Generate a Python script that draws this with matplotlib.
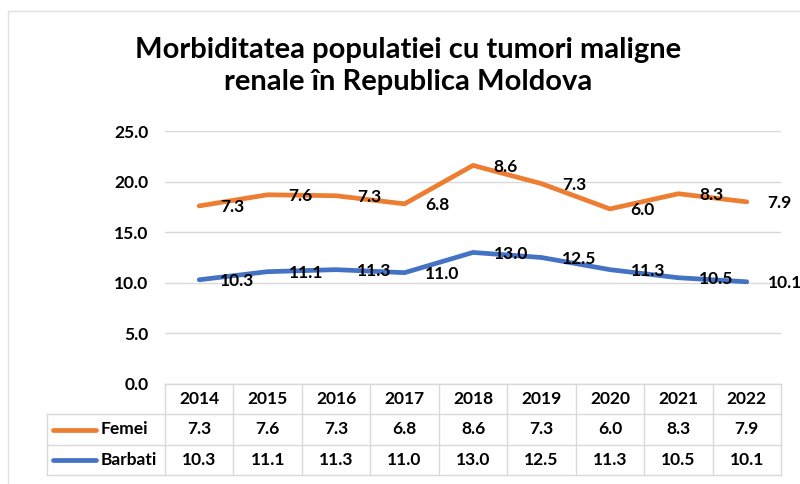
import numpy as np
import matplotlib.pyplot as plt

years = ['2014', '2015', '2016', '2017', '2018', '2019', '2020', '2021', '2022']
femei = [7.3, 7.6, 7.3, 6.8, 8.6, 7.3, 6.0, 8.3, 7.9]
barbati = [10.3, 11.1, 11.3, 11.0, 13.0, 12.5, 11.3, 10.5, 10.1]

title = 'Morbiditatea populatiei cu tumori maligne\nrenale în Republica Moldova'
c_f = '#ED7D31'
c_b = '#4472C4'
grid_c = '#D9D9D9'

plt.rcParams['font.family'] = ['Lato', 'DejaVu Sans']
plt.rcParams['font.weight'] = 'bold'
fs = 12.5

W, H = 800, 484
fig = plt.figure(figsize=(W / 100, H / 100), dpi=100)

# chart area border
fig.add_artist(plt.Rectangle((8 / W, -0.01), 1, 1 - 11 / H + 0.01, transform=fig.transFigure,
                             fill=False, ec='#E0E0E0', lw=1))

x0, x1, ytop, ybot = 165, 781, 131, 384
ax = fig.add_axes([x0 / W, 1 - ybot / H, (x1 - x0) / W, (ybot - ytop) / H])

x = np.arange(len(years))
# stacked lines: Femei drawn on top of Barbati
top = np.array(barbati) + np.array(femei)
ax.plot(x, barbati, color=c_b, lw=3.4, solid_capstyle='round', zorder=3)
ax.plot(x, top, color=c_f, lw=3.4, solid_capstyle='round', zorder=3)

for i in range(len(years)):
    ax.annotate(f'{barbati[i]:.1f}', (x[i], barbati[i]), xytext=(15, -1),
                textcoords='offset points', ha='left', va='center', fontsize=fs, zorder=4,
                annotation_clip=False)
    ax.annotate(f'{femei[i]:.1f}', (x[i], top[i]), xytext=(15, -1),
                textcoords='offset points', ha='left', va='center', fontsize=fs, zorder=4,
                annotation_clip=False)

ax.set_xlim(-0.5, len(years) - 0.5)
ax.set_ylim(0, 25)
ax.set_yticks(np.arange(0, 25.1, 5))
ax.set_yticklabels([f'{v:.1f}' for v in np.arange(0, 25.1, 5)], fontsize=fs)
ax.tick_params(axis='y', length=0, pad=12)
ax.set_xticks([])
ax.grid(axis='y', color=grid_c, lw=1)
for s in ax.spines.values():
    s.set_visible(False)
ax.set_axisbelow(True)

fig.text(408 / W, 1 - 66 / H, title, ha='center', va='center', fontsize=21,
         linespacing=1.32)

# data table below the plot
ytab = 475
tab = fig.add_axes([x0 / W, 1 - ytab / H, (x1 - x0) / W, (ytab - ybot) / H])
tab.set_xlim(-0.5, len(years) - 0.5)
tab.set_ylim(3, 0)
tab.axis('off')
unit = (x1 - x0) / len(years)
left = -0.5 - (x0 - 47) / unit
lk = dict(color=grid_c, lw=1, clip_on=False)
tab.plot([-0.5, len(years) - 0.5], [0, 0], **lk)
for r in (1, 2, 3):
    tab.plot([left, len(years) - 0.5], [r, r], **lk)
tab.plot([left, left], [1, 3], **lk)
for b in np.arange(-0.5, len(years), 1):
    tab.plot([b, b], [0, 3], **lk)
for i, yr in enumerate(years):
    tab.text(i, 0.5, yr, ha='center', va='center', fontsize=fs)
    tab.text(i, 1.5, f'{femei[i]:.1f}', ha='center', va='center', fontsize=fs)
    tab.text(i, 2.5, f'{barbati[i]:.1f}', ha='center', va='center', fontsize=fs)

for r, name, col in ((1.5, 'Femei', c_f), (2.5, 'Barbati', c_b)):
    tab.text(-0.5 - (x0 - 101) / unit, r, name, ha='left', va='center', fontsize=fs,
             clip_on=False)
    tab.plot([-0.5 - (x0 - 53) / unit, -0.5 - (x0 - 96) / unit], [r, r], color=col,
             lw=3.4, solid_capstyle='round', clip_on=False)

fig.savefig('out.png', dpi=100)
